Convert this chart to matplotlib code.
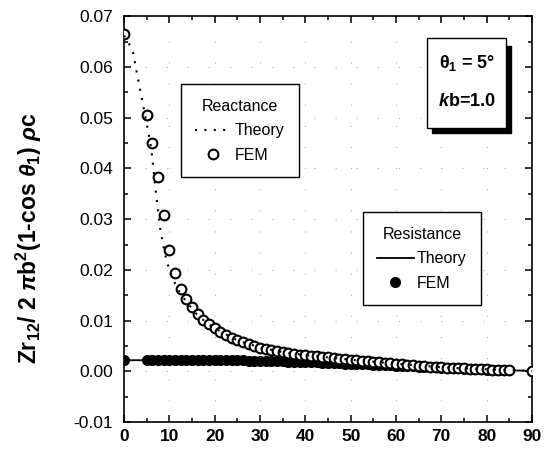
import matplotlib
matplotlib.use('Agg')
import matplotlib.pyplot as plt
from matplotlib.lines import Line2D
from matplotlib.patches import Rectangle
from matplotlib.ticker import MultipleLocator

plt.rcParams['font.family'] = ['Liberation Sans', 'DejaVu Sans']
plt.rcParams['mathtext.fontset'] = 'custom'
plt.rcParams['mathtext.rm'] = 'Liberation Sans:bold'
plt.rcParams['mathtext.it'] = 'Liberation Sans:italic:bold'
plt.rcParams['mathtext.bf'] = 'Liberation Sans:bold'

# angle grid of the FEM results (deg)
x_fem = [0, 5, 6.25, 7.5, 8.75, 10, 11.25, 12.5, 13.75, 15, 16.25, 17.5, 18.75,
         20, 21.25, 22.5, 23.75, 25, 26.25, 27.5, 28.75, 30, 31.25, 32.5, 33.75,
         35, 36.25, 37.5, 38.75, 40, 41.25, 42.5, 43.75, 45, 46.25, 47.5, 48.75,
         50, 51.25, 52.5, 53.75, 55, 56.25, 57.5, 58.75, 60, 61.25, 62.5, 63.75,
         65, 66.25, 67.5, 68.75, 70, 71.25, 72.5, 73.75, 75, 76.25, 77.5, 78.75,
         80, 81.25, 82.5, 83.75, 85, 90]

react_fem = [0.0664, 0.0505, 0.0450, 0.0383, 0.0308, 0.0240, 0.0193, 0.0163,
             0.0142, 0.0126, 0.0114, 0.0102, 0.0093, 0.0085, 0.0078, 0.0072,
             0.0066, 0.0061, 0.0057, 0.0053, 0.0050, 0.0047, 0.0045, 0.0042,
             0.0040, 0.0038, 0.0037, 0.0035, 0.0033, 0.0032, 0.0031, 0.0030,
             0.0029, 0.0028, 0.0027, 0.0025, 0.0024, 0.0023, 0.0022, 0.0021,
             0.0020, 0.0019, 0.0018, 0.0017, 0.0016, 0.0015, 0.0014, 0.0013,
             0.0012, 0.0011, 0.0010, 0.0009, 0.0009, 0.0008, 0.0007, 0.0007,
             0.0006, 0.0006, 0.0005, 0.0005, 0.0004, 0.0004, 0.0003, 0.0003,
             0.0002, 0.0002, 0.0001]

resist_fem = [0.0022, 0.0022, 0.0022, 0.0022, 0.0022, 0.0022, 0.0022, 0.0022,
              0.0022, 0.0022, 0.0022, 0.0022, 0.0022, 0.0022, 0.0022, 0.0022,
              0.0022, 0.0022, 0.0022, 0.0021, 0.0021, 0.0021, 0.0021, 0.0020,
              0.0020, 0.0020, 0.0019, 0.0019, 0.0019, 0.0018, 0.0018, 0.0018,
              0.0017, 0.0017, 0.0016, 0.0016, 0.0015, 0.0015, 0.0015, 0.0014,
              0.0014, 0.0013, 0.0013, 0.0012, 0.0012, 0.0011, 0.0011, 0.0010,
              0.0010, 0.0009, 0.0009, 0.0008, 0.0008, 0.0007, 0.0007, 0.0006,
              0.0006, 0.0005, 0.0005, 0.0004, 0.0004, 0.0003, 0.0003, 0.0002,
              0.0002, 0.0002, 0.0001]

# theory curves
x_react_th = [0, 1, 2, 3, 4, 5, 6, 7, 8, 9, 10, 11, 12, 13, 14, 16, 18, 20,
              25, 30, 35, 40, 50, 60, 70, 80, 90]
react_th = [0.0662, 0.0648, 0.0628, 0.0580, 0.0534, 0.0488, 0.0440, 0.0355,
            0.0280, 0.0232, 0.0200, 0.0178, 0.0160, 0.0146, 0.0135, 0.0113,
            0.0097, 0.0085, 0.0061, 0.0047, 0.0038, 0.0032, 0.0023, 0.0015,
            0.0008, 0.0004, 0.0001]

x_res_th = [0, 5, 10, 20, 30, 40, 50, 60, 70, 80, 90]
res_th = [0.0022, 0.0022, 0.0022, 0.0022, 0.0021, 0.0018, 0.0015, 0.0011,
          0.0007, 0.0003, 0.0001]

fig = plt.figure(figsize=(5.44, 4.5), dpi=100)
ax = fig.add_axes([0.228, 0.062, 0.75, 0.902])

ax.plot(x_res_th, res_th, '-', color='black', lw=1.3, zorder=2)
ax.plot(x_fem, resist_fem, 'o', color='black', ms=7, zorder=3)
ax.plot(x_fem, react_fem, 'o', mfc='white', mec='black', mew=1.5, ms=7,
        zorder=4)
ax.plot(x_react_th, react_th, color='black', lw=1.5, ls=(0, (1, 3.5)),
        zorder=5)

ax.set_xlim(0, 90)
ax.set_ylim(-0.01, 0.07)
ax.xaxis.set_major_locator(MultipleLocator(10))
ax.xaxis.set_minor_locator(MultipleLocator(5))
ax.yaxis.set_major_locator(MultipleLocator(0.01))
ax.yaxis.set_minor_locator(MultipleLocator(0.005))
ax.set_yticklabels(['%.2f' % v for v in ax.get_yticks()])
ax.tick_params(which='both', direction='in', top=True, right=True,
               width=1.1, labelsize=12.5)
ax.tick_params(axis='y', pad=8)
ax.tick_params(axis='x', pad=5)
ax.tick_params(which='major', length=5)
ax.tick_params(which='minor', length=3)
for lab in ax.get_xticklabels():
    lab.set_fontweight('bold')
for s in ax.spines.values():
    s.set_linewidth(1.2)

ax.grid(True, which='major', color='0.7', lw=0.8, ls=(0, (1, 18)))

ax.set_ylabel(r'Zr$_{12}$/ 2 $\pi$b$^2$(1-cos $\theta_1$) $\rho$c',
              fontsize=16.5, fontweight='bold')
ax.yaxis.set_label_coords(-0.195, 0.453)

# legends
h1 = [Line2D([], [], color='black', lw=1.5, ls=(0, (1, 3.5))),
      Line2D([], [], ls='none', marker='o', mfc='white', mec='black',
             mew=1.5, ms=7)]
leg1 = ax.legend(h1, ['Theory', 'FEM'], title='Reactance', loc='upper left',
                 bbox_to_anchor=(0.139, 0.8325), fontsize=11.5,
                 title_fontsize=11.5, fancybox=False, edgecolor='black',
                 framealpha=1, handlelength=2.3, handletextpad=0.2,
                 borderpad=0.9, labelspacing=0.6, borderaxespad=0)
leg1.get_frame().set_linewidth(1.0)
ax.add_artist(leg1)

h2 = [Line2D([], [], color='black', lw=1.3),
      Line2D([], [], ls='none', marker='o', color='black', ms=7)]
leg2 = ax.legend(h2, ['Theory', 'FEM'], title='Resistance', loc='upper left',
                 bbox_to_anchor=(0.585, 0.517), fontsize=11.5,
                 title_fontsize=11.5, fancybox=False, edgecolor='black',
                 framealpha=1, handlelength=2.3, handletextpad=0.2,
                 borderpad=0.9, labelspacing=0.6, borderaxespad=0)
leg2.get_frame().set_linewidth(1.0)

# parameter box with shadow
ax.add_patch(Rectangle((0.755, 0.712), 0.193, 0.215, transform=ax.transAxes,
                       facecolor='black', edgecolor='black', zorder=6,
                       clip_on=False))
ax.add_patch(Rectangle((0.743, 0.724), 0.193, 0.222, transform=ax.transAxes,
                       facecolor='white', edgecolor='black', lw=1.0, zorder=7,
                       clip_on=False))
ax.text(0.84, 0.885, 'θ$_1$ = 5°', transform=ax.transAxes, ha='center',
        va='center', fontsize=13, fontweight='bold', zorder=8)
ax.text(0.84, 0.79, '$k$b=1.0', transform=ax.transAxes, ha='center',
        va='center', fontsize=13, fontweight='bold', zorder=8)

fig.savefig('out.png', dpi=100)
